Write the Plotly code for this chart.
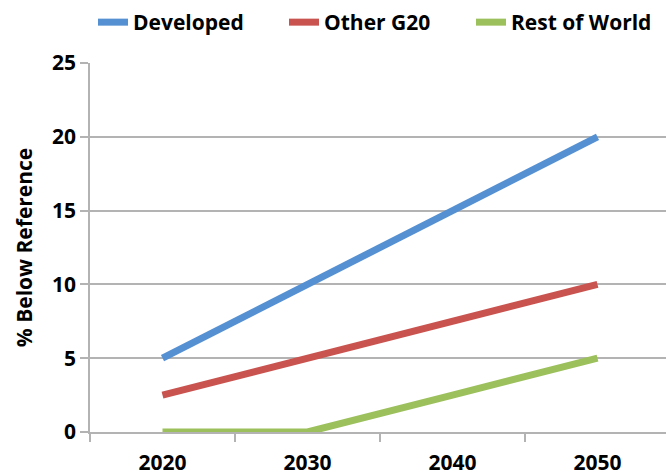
import plotly.graph_objects as go

years = ["2020", "2030", "2040", "2050"]
developed = [5, 10, 15, 20]
other_g20 = [2.5, 5, 7.5, 10]
rest_of_world = [0, 0, 2.5, 5]
y_ticks = [0, 5, 10, 15, 20, 25]

series = [
    ("Developed", developed, "#5490D2", "legend", 93),
    ("Other G20", other_g20, "#C9534F", "legend2", 284),
    ("Rest of World", rest_of_world, "#9CC05C", "legend3", 471),
]

FONT = "Open Sans"
GRID = "#B3B3B3"
BOLD = dict(family=FONT, size=21, color="black", weight="bold")
W, H = 666, 475
positions = list(range(len(years)))

fig = go.Figure()
for name, vals, color, leg, _ in series:
    fig.add_trace(go.Scatter(
        x=positions, y=vals, name=name, mode="lines",
        line=dict(color=color, width=7),
        xaxis="x", yaxis="y", legend=leg,
    ))

# one single-entry legend per series, laid out in a row across the top
legends = {}
for _, _, _, leg, left in series:
    legends[leg] = dict(
        orientation="h", x=left / W, xanchor="left",
        y=1 - 2 / H, yanchor="top", xref="container", yref="container",
        font=BOLD, bgcolor="rgba(0,0,0,0)",
    )

# category boundaries carry the tick marks; year labels sit on an overlaid axis
x_range = [-0.5, 3.5 - 4 / 145]
fig.update_layout(
    width=W, height=H,
    margin=dict(l=90, r=0, t=63, b=43, autoexpand=False),
    paper_bgcolor="white", plot_bgcolor="white",
    font=BOLD,
    showlegend=True,
    **legends,
    xaxis=dict(
        range=x_range, tickmode="array",
        tickvals=[-0.5, 0.5, 1.5, 2.5], ticktext=["", "", "", ""],
        ticks="outside", ticklen=8, tickcolor=GRID, tickwidth=1.5,
        showgrid=False, zeroline=False,
        showline=True, linecolor=GRID, linewidth=1.5,
    ),
    xaxis2=dict(
        range=x_range, overlaying="x", side="bottom", tickmode="array",
        tickvals=positions, ticktext=years,
        ticks="outside", ticklen=12, tickcolor="rgba(0,0,0,0)",
        showgrid=False, zeroline=False, showline=False, tickfont=BOLD,
    ),
    yaxis=dict(
        range=[0, 25], tickmode="array", tickvals=y_ticks,
        ticks="outside", ticklen=8, tickcolor=GRID, tickwidth=1.5,
        showgrid=True, gridcolor=GRID, gridwidth=1.5,
        zeroline=False, showline=True, linecolor=GRID, linewidth=1.5,
        tickfont=BOLD,
        title=dict(text="% Below Reference", font=BOLD, standoff=14),
    ),
)
# invisible trace anchoring the label axis
fig.add_trace(go.Scatter(x=positions, y=[None] * 4, xaxis="x2", yaxis="y",
                         showlegend=False, hoverinfo="skip"))

fig.write_html("out.html")
